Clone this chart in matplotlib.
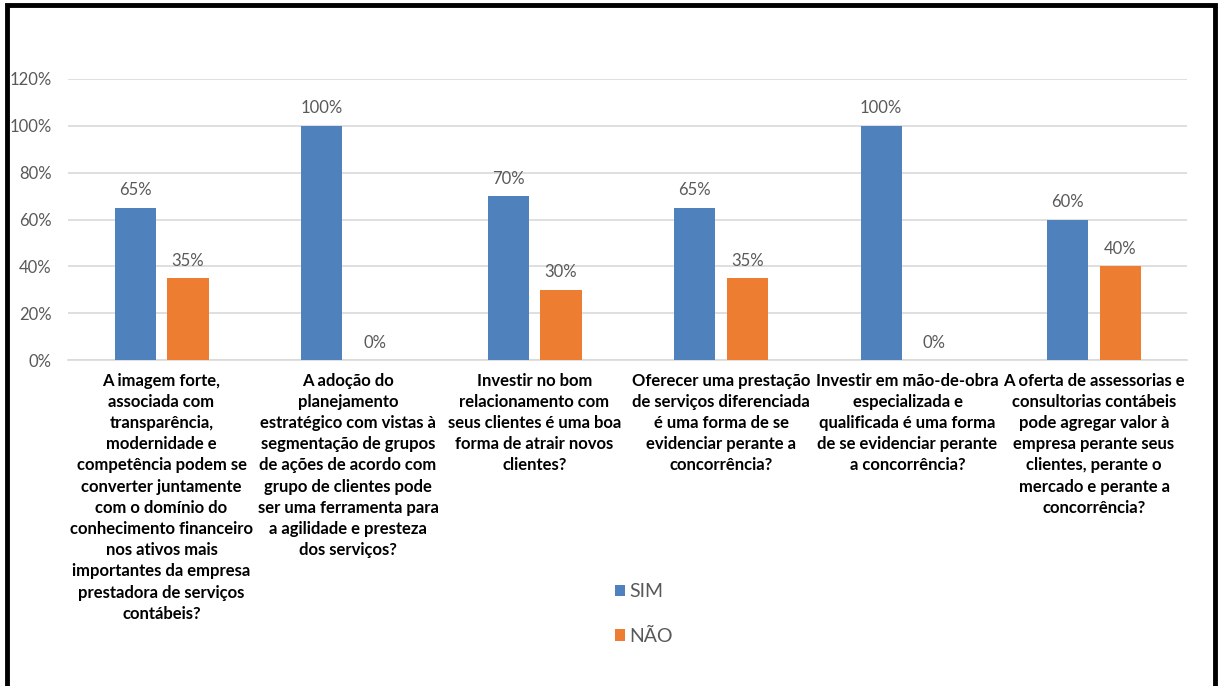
import numpy as np
import matplotlib.pyplot as plt
from matplotlib.patches import Rectangle

perguntas = [
    "A imagem forte,\nassociada com\ntransparência,\nmodernidade e\ncompetência podem se\nconverter juntamente\ncom o domínio do\nconhecimento financeiro\nnos ativos mais\nimportantes da empresa\nprestadora de serviços\ncontábeis?",
    "A adoção do\nplanejamento\nestratégico com vistas à\nsegmentação de grupos\nde ações de acordo com\ngrupo de clientes pode\nser uma ferramenta para\na agilidade e presteza\ndos serviços?",
    "Investir no bom\nrelacionamento com\nseus clientes é uma boa\nforma de atrair novos\nclientes?",
    "Oferecer uma prestação\nde serviços diferenciada\né uma forma de se\nevidenciar perante a\nconcorrência?",
    "Investir em mão-de-obra\nespecializada e\nqualificada é uma forma\nde se evidenciar perante\na concorrência?",
    "A oferta de assessorias e\nconsultorias contábeis\npode agregar valor à\nempresa perante seus\nclientes, perante o\nmercado e perante a\nconcorrência?",
]
sim = [0.65, 1.00, 0.70, 0.65, 1.00, 0.60]
nao = [0.35, 0.00, 0.30, 0.35, 0.00, 0.40]
yticks = [0, 0.2, 0.4, 0.6, 0.8, 1.0, 1.2]

azul = "#4F81BD"
laranja = "#ED7D31"
cinza = "#595959"

plt.rcParams['font.family'] = ['Lato', 'DejaVu Sans']

fig = plt.figure(figsize=(12.19, 6.86), dpi=100)
ax = fig.add_axes([0.056, 0.475, 0.918, 0.41])

x = np.arange(len(perguntas))
w = 0.22
d = 0.142
b1 = ax.bar(x - d, sim, w, color=azul, label="SIM", zorder=3)
b2 = ax.bar(x + d, nao, w, color=laranja, label="NÃO", zorder=3)

for barras in (b1, b2):
    for b in barras:
        v = b.get_height()
        ax.text(b.get_x() + b.get_width() / 2, v + 0.04, "%d%%" % round(v * 100),
                ha="center", va="bottom", fontsize=12, color=cinza)

ax.set_xlim(-0.5, len(perguntas) - 0.5)
ax.set_ylim(0, 1.2)
ax.set_yticks(yticks)
ax.set_yticklabels(["%d%%" % round(t * 100) for t in yticks], fontsize=12, color=cinza)
ax.set_xticks(x)
ax.set_xticklabels(perguntas, fontsize=12, fontweight="bold", color="black",
                   linespacing=1.4, va="top")
ax.tick_params(axis="both", length=0)
ax.tick_params(axis="x", pad=9)
ax.tick_params(axis="y", pad=12)
ax.grid(axis="y", color="#D9D9D9", linewidth=1.2, zorder=0)
for s in ("top", "right", "left"):
    ax.spines[s].set_visible(False)
ax.spines["bottom"].set_color("#D9D9D9")
ax.spines["bottom"].set_linewidth(1.2)

fig.legend(handles=[b1, b2], loc="center", bbox_to_anchor=(0.528, 0.105),
           frameon=False, fontsize=14, labelcolor=cinza, handlelength=0.55,
           handleheight=0.55, handletextpad=0.2, labelspacing=1.4)

# moldura preta em volta da figura
fig.patches.append(Rectangle((0.0055, -0.05), 0.9915, 1.043, transform=fig.transFigure,
                             fill=False, edgecolor="black", linewidth=3.5))

fig.savefig("out.png", dpi=100)
